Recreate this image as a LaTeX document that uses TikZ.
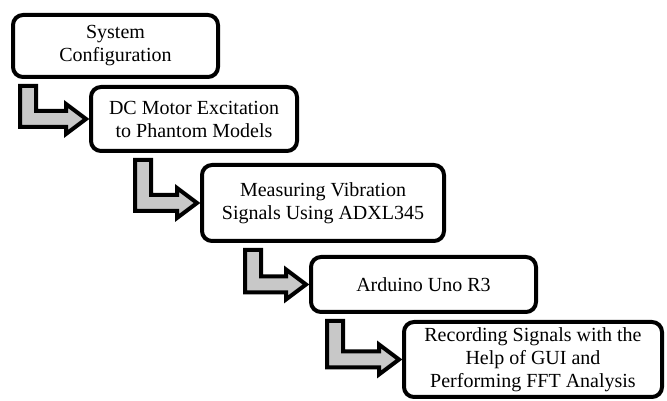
\documentclass[tikz,border=0pt]{standalone}
\usepackage{fontspec}
\setmainfont{Liberation Serif}
\usetikzlibrary{calc}

\definecolor{flowgray}{RGB}{200,200,200}

% one L-shaped block arrow from the bottom of #1 to the left side of #2, bar at x=#3
\newcommand{\steparrow}[3]{%
  \draw[stepflow] let \p1=(#1.south), \p2=(#2.west) in
    (#3,\y1-9) -- (#3+16,\y1-9) -- (#3+16,\y2+8) -- (\x2-25,\y2+8)
    -- (\x2-25,\y2+15) -- (\x2-5,\y2) -- (\x2-25,\y2-15) -- (\x2-25,\y2-8)
    -- (#3,\y2-8) -- cycle;}

\begin{document}
\begin{tikzpicture}[x=1pt, y=1pt,
    stepbox/.style={draw, line width=4pt, rounded corners=10pt, fill=white,
      outer sep=0pt, inner sep=2pt, align=center,
      font=\fontsize{20}{23}\selectfont},
    stepflow/.style={draw, line width=4pt, fill=flowgray, line join=miter}]
    \useasboundingbox (0,0) rectangle (667,401);

    % boxes
    \node[stepbox, minimum width=205pt, minimum height=62pt] (config) at (115.5,355)
      {System\\Configuration};
    \node[stepbox, minimum width=206pt, minimum height=64pt] (motor) at (194,282)
      {DC Motor Excitation\\to Phantom Models};
    \node[stepbox, minimum width=242pt, minimum height=76pt] (measure) at (323,198)
      {Measuring Vibration\\Signals Using ADXL345};
    \node[stepbox, minimum width=225pt, minimum height=55pt] (arduino) at (423.5,116.5)
      {Arduino Uno R3};
    \node[stepbox, minimum width=258pt, minimum height=75pt] (record) at (533,41.5)
      {Recording Signals with the\\Help of GUI and\\Performing FFT Analysis};

    % arrows
    \steparrow{config}{motor}{20}
    \steparrow{motor}{measure}{135}
    \steparrow{measure}{arduino}{245}
    \steparrow{arduino}{record}{327}
\end{tikzpicture}
\end{document}
